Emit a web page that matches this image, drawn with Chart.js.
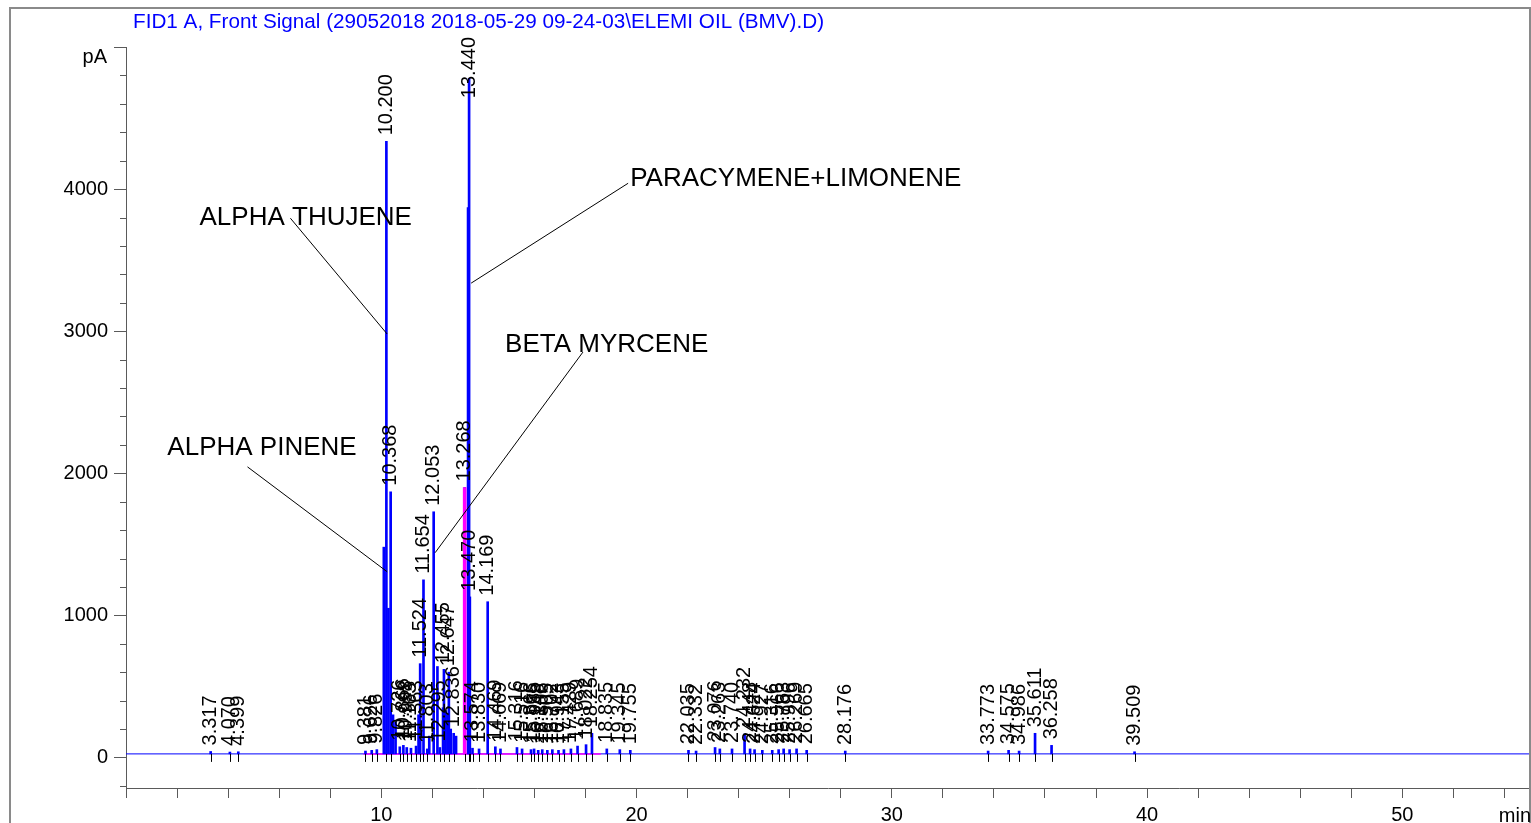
<!DOCTYPE html>
<html><head><meta charset="utf-8">
<script src="https://cdn.jsdelivr.net/npm/chart.js@4/dist/chart.umd.min.js"></script>
<style>html,body{margin:0;padding:0;background:#fff;}#wrap{width:1531px;height:823px;position:relative;}</style>
</head><body><div id="wrap"><canvas id="c"></canvas></div>
<script>
const titleText = "FID1 A, Front Signal (29052018 2018-05-29 09-24-03\\ELEMI OIL (BMV).D)";
const yUnit = "pA";
const xUnit = "min";

// labelled peaks: retention time (min) and apex height (pA)
const peakTimes = [3.317, 4.070, 4.399, 9.381, 9.626, 9.826, 10.200, 10.368, 10.726, 10.866, 10.998, 11.163, 11.363, 11.524, 11.654, 11.803, 12.053, 12.295, 12.455, 12.647, 12.836, 13.268, 13.440, 13.470, 13.574, 13.830, 14.169, 14.469, 14.669, 15.316, 15.516, 15.866, 15.985, 16.148, 16.306, 16.505, 16.702, 16.943, 17.155, 17.429, 17.689, 18.022, 18.254, 18.835, 19.345, 19.755, 22.035, 22.332, 23.076, 23.263, 23.740, 24.232, 24.448, 24.624, 24.927, 25.316, 25.566, 25.763, 25.996, 26.269, 26.665, 28.176, 33.773, 34.575, 34.986, 35.611, 36.258, 39.509];
const peakHeights = [42, 38, 40, 45, 50, 55, 4336, 1870, 75, 85, 70, 65, 80, 660, 1250, 60, 1729, 70, 620, 600, 170, 1900, 4780, 1130, 65, 60, 1096, 75, 60, 70, 60, 55, 60, 50, 55, 50, 55, 50, 55, 60, 80, 90, 170, 60, 55, 50, 50, 45, 70, 60, 60, 165, 60, 55, 50, 50, 55, 60, 55, 60, 50, 45, 45, 50, 45, 170, 85, 40];
// unlabelled shoulders visible in the trace
const shoulderTimes = [10.100, 10.280, 10.460, 10.560, 11.460, 11.880, 12.200, 12.420, 12.520, 12.600, 12.720, 12.930, 13.400];
const shoulderHeights = [1480, 1050, 300, 250, 300, 150, 640, 350, 330, 300, 200, 150, 3870];
// peak integrated with magenta marker
const magentaPeaks = [13.268];
const baselineLevel = 25;
const integrationSpan = [9.30, 18.60];

const xTicks = [0, 2, 4, 6, 8, 10, 12, 14, 16, 18, 20, 22, 24, 26, 28, 30, 32, 34, 36, 38, 40, 42, 44, 46, 48, 50, 52, 54];
const xTickLabels = [10, 20, 30, 40, 50];
const yMajorTicks = [0, 1000, 2000, 3000, 4000, 5000];
const yMinorTicks = [-200, 200, 400, 600, 800, 1200, 1400, 1600, 1800, 2200, 2400, 2600, 2800, 3200, 3400, 3600, 3800, 4200, 4400, 4600, 4800];

const compoundNames = ["ALPHA THUJENE", "PARACYMENE+LIMONENE", "BETA MYRCENE", "ALPHA PINENE"];
const compoundTextAt = [[2.88, 3795], [19.75, 4069], [14.85, 2902], [1.62, 2178]];
const compoundLineFrom = [[6.44, 3795], [19.67, 4041], [17.90, 2853], [4.76, 2045]];
const compoundLineTo = [[10.23, 2980], [13.52, 3338], [12.11, 1441], [10.23, 1307]];

const FONT = "'Liberation Sans', Arial, sans-serif";
const BLUE = "#0000FF", MAGENTA = "#FF00FF", AXIS = "#5a5a5a";

const blueBars = peakTimes.map((t, i) => ({x: t, y: [baselineLevel, peakHeights[i]]}))
  .concat(shoulderTimes.map((t, i) => ({x: t, y: [baselineLevel, shoulderHeights[i]]})));
const magentaBars = peakTimes.map((t, i) => ({x: t, y: [baselineLevel, peakHeights[i]]}))
  .filter(p => magentaPeaks.includes(p.x));

const decor = {
  id: 'decor',
  afterDraw(chart) {
    const {ctx, chartArea: a} = chart;
    const xs = chart.scales.x, ys = chart.scales.y;
    ctx.save();
    // outer frame
    ctx.strokeStyle = "#8a8a8a"; ctx.lineWidth = 2;
    ctx.beginPath(); ctx.moveTo(10, 823); ctx.lineTo(10, 8); ctx.lineTo(1530, 8); ctx.lineTo(1530, 823); ctx.stroke();
    // title
    ctx.fillStyle = BLUE; ctx.font = "20.7px " + FONT; ctx.textAlign = "left"; ctx.textBaseline = "alphabetic";
    ctx.fillText(titleText, 133, 28);
    // minor y ticks
    ctx.strokeStyle = AXIS; ctx.lineWidth = 1;
    yMinorTicks.forEach(v => {
      const py = Math.round(ys.getPixelForValue(v)) + 0.5;
      ctx.beginPath(); ctx.moveTo(a.left - 6, py); ctx.lineTo(a.left, py); ctx.stroke();
    });
    // unit labels
    ctx.fillStyle = "#000"; ctx.font = "20px " + FONT;
    ctx.textAlign = "right"; ctx.textBaseline = "alphabetic";
    ctx.fillText(yUnit, a.left - 19, ys.getPixelForValue(5000) + 16);
    ctx.fillText(xUnit, a.right + 1, 822);
    // integration markers below baseline + apex stubs + labels
    const by = ys.getPixelForValue(baselineLevel);
    ctx.strokeStyle = "#000"; ctx.lineWidth = 1;
    peakTimes.forEach((t, i) => {
      const px = Math.round(xs.getPixelForValue(t)) + 0.5;
      const py = ys.getPixelForValue(peakHeights[i]);
      ctx.beginPath(); ctx.moveTo(px, by); ctx.lineTo(px, by + 8); ctx.stroke();
    });
    ctx.font = "20px " + FONT; ctx.fillStyle = "#000";
    ctx.textAlign = "left"; ctx.textBaseline = "middle";
    peakTimes.forEach((t, i) => {
      const txt = t.toFixed(3);
      const px = xs.getPixelForValue(t);
      const py = ys.getPixelForValue(peakHeights[i]);
      const start = Math.max(py - 6, a.top - 10 + ctx.measureText(txt).width);
      ctx.save(); ctx.translate(px, start); ctx.rotate(-Math.PI / 2);
      ctx.fillText(txt, 0, 0); ctx.restore();
    });
    // compound annotations
    ctx.font = "26px " + FONT; ctx.textBaseline = "middle"; ctx.textAlign = "left";
    compoundNames.forEach((n, i) => {
      ctx.fillText(n, xs.getPixelForValue(compoundTextAt[i][0]), ys.getPixelForValue(compoundTextAt[i][1]));
      ctx.beginPath();
      ctx.moveTo(xs.getPixelForValue(compoundLineFrom[i][0]), ys.getPixelForValue(compoundLineFrom[i][1]));
      ctx.lineTo(xs.getPixelForValue(compoundLineTo[i][0]), ys.getPixelForValue(compoundLineTo[i][1]));
      ctx.stroke();
    });
    ctx.restore();
  }
};

new Chart(document.getElementById('c'), {
  type: 'bar',
  data: {
    datasets: [
      {type: 'bar', data: magentaBars, backgroundColor: MAGENTA, barThickness: 3, grouped: false},
      {type: 'bar', data: blueBars, backgroundColor: BLUE, barThickness: 2, grouped: false},
      {type: 'line', data: [{x: integrationSpan[0], y: baselineLevel}, {x: integrationSpan[1], y: baselineLevel}], borderColor: MAGENTA, borderWidth: 1.5, pointRadius: 0},
      {type: 'line', data: [{x: 0, y: baselineLevel}, {x: 55, y: baselineLevel}], borderColor: BLUE, borderWidth: 1, pointRadius: 0}
    ]
  },
  options: {
    animation: false, responsive: true, maintainAspectRatio: false,
    layout: {padding: {left: 0, top: 47, right: 1, bottom: 0}},
    plugins: {legend: {display: false}, tooltip: {enabled: false}, title: {display: false}},
    scales: {
      x: {
        type: 'linear', min: 0, max: 55, offset: false,
        afterBuildTicks: s => { s.ticks = xTicks.map(v => ({value: v})); },
        afterFit: s => { s.height = 35; },
        grid: {offset: false, drawOnChartArea: false, drawTicks: true, tickLength: 10, color: AXIS},
        border: {display: true, color: AXIS, width: 1},
        ticks: {callback: v => xTickLabels.includes(v) ? String(v) : '', autoSkip: false, maxRotation: 0, padding: 5, color: '#000', font: {family: FONT, size: 20}}
      },
      y: {
        type: 'linear', min: -215, max: 5000,
        afterBuildTicks: s => { s.ticks = yMajorTicks.map(v => ({value: v})); },
        afterFit: s => { s.width = 126; },
        grid: {offset: false, drawOnChartArea: false, drawTicks: true, tickLength: 12, color: AXIS},
        border: {display: true, color: AXIS, width: 1},
        ticks: {callback: v => v === 5000 ? '' : String(v), autoSkip: false, padding: 6, color: '#000', font: {family: FONT, size: 20}}
      }
    }
  },
  plugins: [decor]
});
</script>
</body></html>
